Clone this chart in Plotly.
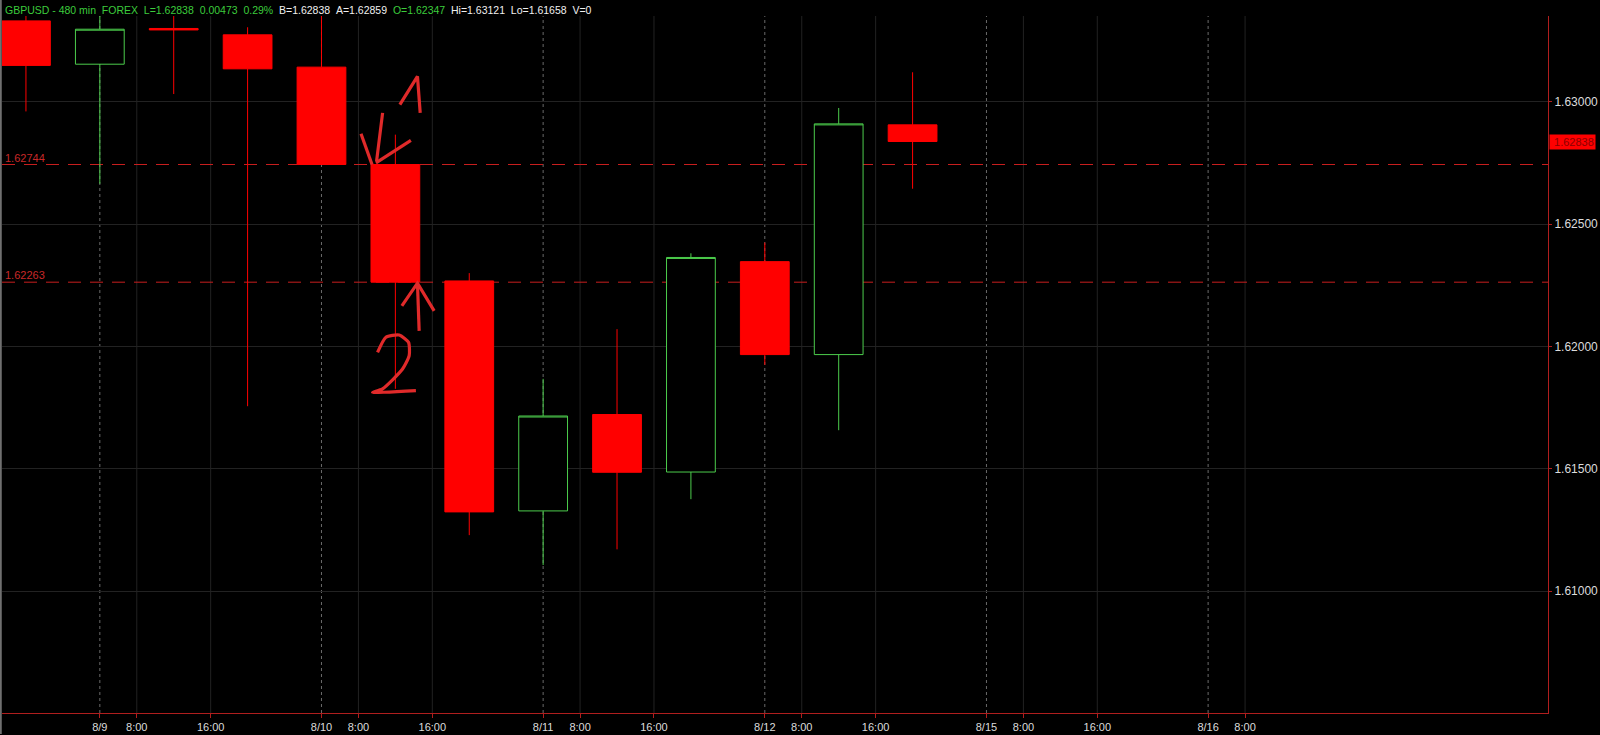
import plotly.graph_objects as go

# ---- data (8-hour GBPUSD bars) ----
bar_labels = ["8/8 16:00", "8/9 0:00", "8/9 8:00", "8/9 16:00", "8/10 0:00", "8/10 8:00",
              "8/10 16:00", "8/11 0:00", "8/11 8:00", "8/11 16:00", "8/12 0:00", "8/12 8:00", "8/12 16:00"]
opens  = [1.63331, 1.63154, 1.63300, 1.63274, 1.63142, 1.62744, 1.62268, 1.61328, 1.61722, 1.61487, 1.62347, 1.61967, 1.62906]
highs  = [1.63460, 1.63460, 1.63460, 1.63305, 1.63460, 1.62866, 1.62300, 1.61868, 1.62071, 1.62381, 1.62425, 1.62975, 1.63121]
lows   = [1.62961, 1.62665, 1.63032, 1.61756, 1.62744, 1.61827, 1.61229, 1.61107, 1.61171, 1.61376, 1.61925, 1.61658, 1.62645]
closes = [1.63149, 1.63297, 1.63294, 1.63135, 1.62744, 1.62263, 1.61324, 1.61716, 1.61486, 1.62364, 1.61967, 1.62910, 1.62838]

x_tick_pos  = [1, 1.5, 2.5, 4, 4.5, 5.5, 7, 7.5, 8.5, 10, 10.5, 11.5, 13, 13.5, 14.5, 16, 16.5]
x_tick_text = ["8/9", "8:00", "16:00", "8/10", "8:00", "16:00", "8/11", "8:00", "16:00",
               "8/12", "8:00", "16:00", "8/15", "8:00", "16:00", "8/16", "8:00"]
date_ticks = [1, 4, 7, 10, 13, 16]
time_ticks = [1.5, 2.5, 4.5, 5.5, 7.5, 8.5, 10.5, 11.5, 13.5, 14.5, 16.5]

y_tick_vals = [1.610, 1.615, 1.620, 1.625, 1.630]
level_lines = [1.62744, 1.62263]
last_price = 1.62838

header_parts = [
    ("GBPUSD - 480 min  FOREX  L=1.62838  0.00473  0.29%  ", "#3ccc3c"),
    ("B=1.62838  A=1.62859  ", "#f0f0f0"),
    ("O=1.62347  ", "#3ccc3c"),
    ("Hi=1.63121  Lo=1.61658  V=0", "#f0f0f0"),
]

# hand-drawn marks (data coordinates: bar index, price), with a smoothing flag
note_strokes = [
    ([5.061, 5.299, 5.336], [1.62989, 1.63104, 1.62955], False),               # "1"
    ([4.535, 4.684], [1.62870, 1.62744], False),                               # arrow strokes
    ([4.827, 4.746], [1.62955, 1.62758], False),
    ([5.210, 4.737], [1.62843, 1.62751], False),
    ([5.322, 5.299], [1.62064, 1.62259], False),                               # up arrow shaft
    ([5.088, 5.299, 5.525], [1.62166, 1.62259, 1.62146], False),               # up arrow head
    ([4.759, 4.872, 5.052, 5.178, 5.187, 5.097, 4.826, 4.691, 5.278],
     [1.61976, 1.62038, 1.62047, 1.62017, 1.61963, 1.61908, 1.61827, 1.61813, 1.61820], True),  # "2"
]

x_range = [-0.324, 20.6]
y_range = [1.60502, 1.63351]

RED_AX = "#b01e1e"
x_idx = list(range(len(opens)))

fig = go.Figure()
fig.add_trace(go.Candlestick(
    x=x_idx, open=opens, high=highs, low=lows, close=closes,
    text=bar_labels, hoverinfo="text",
    increasing=dict(line=dict(color="#4ccc4c", width=1), fillcolor="#000000"),
    decreasing=dict(line=dict(color="#ff0000", width=1), fillcolor="#ff0000"),
    whiskerwidth=0, showlegend=False,
))

for xs, ys, smooth in note_strokes:
    fig.add_trace(go.Scatter(x=xs, y=ys, mode="lines", hoverinfo="skip", showlegend=False,
                             line=dict(color="#e02a2a", width=3.2,
                                       shape="spline" if smooth else "linear", smoothing=0.6)))

shapes = []
for xv in time_ticks:
    shapes.append(dict(type="line", xref="x", yref="paper", x0=xv, x1=xv, y0=0, y1=1,
                       line=dict(color="#222222", width=1), layer="below"))
for xv in date_ticks:
    shapes.append(dict(type="line", xref="x", yref="paper", x0=xv, x1=xv, y0=0, y1=1,
                       line=dict(color="#6a6a6a", width=1, dash="3px,3px"), layer="below"))
for lv in level_lines:
    shapes.append(dict(type="line", xref="paper", yref="y", x0=0, x1=1, y0=lv, y1=lv,
                       line=dict(color="#c81e1e", width=1, dash="13px,9px"), layer="below"))
# window border on the left
shapes.append(dict(type="line", xref="paper", yref="paper", x0=-0.0008, x1=-0.0008, y0=-0.03, y1=1.03,
                   line=dict(color="#707070", width=2)))

annotations = []
for lv in level_lines:
    annotations.append(dict(xref="paper", yref="y", x=0, y=lv, xanchor="left", yanchor="bottom",
                            xshift=1, yshift=-1, showarrow=False, text=f"{lv:.5f}",
                            font=dict(family="Arial", size=11, color="#c82828")))
annotations.append(dict(xref="paper", yref="y", x=1, y=last_price, xanchor="left", yanchor="middle",
                        xshift=1, showarrow=False, text=f"&nbsp;{last_price:.5f}", bgcolor="#ff0000",
                        borderpad=1, font=dict(family="Arial", size=11, color="#8b0000")))
header_html = "".join(
    f"<span style='color:{c}'>{t.replace('  ', '&nbsp;&nbsp;')}</span>" for t, c in header_parts)
annotations.append(dict(xref="paper", yref="paper", x=0, y=1, xanchor="left", yanchor="middle",
                        xshift=1, yshift=6, showarrow=False, text=header_html,
                        font=dict(family="Arial", size=10.5, color="#f0f0f0")))

fig.update_layout(
    width=1600, height=735,
    paper_bgcolor="#000000", plot_bgcolor="#000000",
    margin=dict(l=2, r=49, t=16, b=20),
    boxgap=0.34, boxgroupgap=0,
    shapes=shapes, annotations=annotations,
    showlegend=False,
    xaxis=dict(range=x_range, rangeslider=dict(visible=False), showgrid=False, zeroline=False,
               tickmode="array", tickvals=x_tick_pos, ticktext=x_tick_text,
               ticks="outside", ticklen=4, tickcolor=RED_AX, showline=True, linecolor=RED_AX,
               linewidth=1, tickfont=dict(family="Arial", size=11, color="#dcdcdc")),
    yaxis=dict(range=y_range, side="right", showgrid=True, gridcolor="#222222", zeroline=False,
               tickmode="array", tickvals=y_tick_vals, tickformat=".5f",
               ticks="outside", ticklen=3, tickcolor=RED_AX, showline=True, linecolor=RED_AX,
               linewidth=1, tickfont=dict(family="Arial", size=12, color="#dcdcdc")),
)

fig.write_html("out.html", config={"displayModeBar": False},
               post_script="document.body.style.margin='0';document.body.style.overflow='hidden';")
